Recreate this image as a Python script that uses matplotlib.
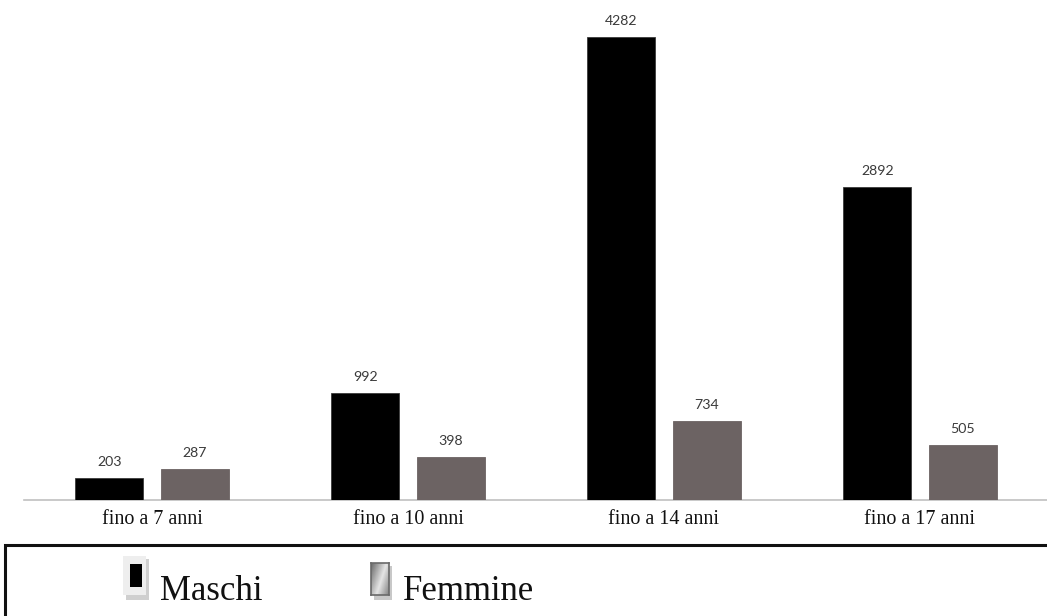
import numpy as np
import matplotlib
matplotlib.use("Agg")
import matplotlib.pyplot as plt
from matplotlib.patches import Rectangle

# Data
categories = ["fino a 7 anni", "fino a 10 anni", "fino a 14 anni", "fino a 17 anni"]
maschi = [203, 992, 4282, 2892]
femmine = [287, 398, 734, 505]
series_names = ["Maschi", "Femmine"]

W, H = 1047, 616
DPI = 100
fig = plt.figure(figsize=(W / DPI, H / DPI), dpi=DPI)
fig.patch.set_facecolor("white")

def fx(px):
    return px / W

def fy(py):
    return 1 - py / H

# Plot area: baseline at y=500 px, spanning x 24..1048 px
ax = fig.add_axes([fx(24), fy(500), 1024 / W, 500 / H])
ax.set_xlim(-0.5, 3.5)
ax.set_ylim(0, 4624)

x = np.arange(len(categories))
bw = 0.266
off = 0.167
c_m = "#000000"
c_f = "#6c6363"
b1 = ax.bar(x - off, maschi, width=bw, color=c_m, edgecolor="#3a3a3a", linewidth=0.6, zorder=3)
b2 = ax.bar(x + off, femmine, width=bw, color=c_f, edgecolor="#6c6363", linewidth=0.6, zorder=3)

for bars, vals in ((b1, maschi), (b2, femmine)):
    for r, v in zip(bars, vals):
        ax.annotate(f"{v}", (r.get_x() + r.get_width() / 2, v),
                    xytext=(0, 11.5), textcoords="offset points",
                    ha="center", va="center", fontsize=10.2,
                    family="Lato", color="#3a3a3a")

for s in ("top", "right", "left"):
    ax.spines[s].set_visible(False)
ax.spines["bottom"].set_color("#c0c0c0")
ax.spines["bottom"].set_linewidth(1.2)
ax.set_yticks([])
ax.set_xticks(x)
ax.set_xticklabels(categories, family="Liberation Serif", fontsize=14.5, color="#111111")
ax.tick_params(axis="x", length=0, pad=7)

# Legend frame
fig.patches.append(Rectangle((fx(5), fy(640)), fx(1100) - fx(5), fy(545) - fy(640),
                             transform=fig.transFigure, fill=False,
                             edgecolor="#111111", linewidth=2.2))

# Maschi key: light tile with shadow and black block
fig.patches.append(Rectangle((fx(126), fy(600)), fx(23), fy(592) - fy(600),
                             transform=fig.transFigure, facecolor="#cfcfcf", edgecolor="none"))
fig.patches.append(Rectangle((fx(146), fy(600)), fx(3), fy(559) - fy(600),
                             transform=fig.transFigure, facecolor="#cfcfcf", edgecolor="none"))
fig.patches.append(Rectangle((fx(123), fy(595)), fx(23), fy(556) - fy(595),
                             transform=fig.transFigure, facecolor="#eeeeee", edgecolor="none"))
fig.patches.append(Rectangle((fx(130), fy(587)), fx(12), fy(564) - fy(587),
                             transform=fig.transFigure, facecolor="#000000", edgecolor="none"))
fig.text(fx(160), fy(600), series_names[0], family="Liberation Serif", fontsize=25,
         color="#111111", ha="left", va="baseline")

# Femmine key: grey gradient tile with shadow
fig.patches.append(Rectangle((fx(374), fy(600)), fx(18), fy(566) - fy(600),
                             transform=fig.transFigure, facecolor="#c8c8c8", edgecolor="none",
                             zorder=0.5))
gax = fig.add_axes([fx(371), fy(595), fx(18), fy(563) - fy(595)])
gax.set_zorder(5)
gy, gx = np.mgrid[0:1:40j, 0:1:30j]
grad = 0.35 + 0.55 * (1 - np.abs(gx + gy * 0.6 - 0.9) / 1.0)
grad = np.clip(grad, 0, 1)
gax.imshow(grad, cmap="gray", vmin=0, vmax=1, aspect="auto", interpolation="bilinear")
gax.set_xticks([])
gax.set_yticks([])
for s in gax.spines.values():
    s.set_color("#6a6a6a")
    s.set_linewidth(1.2)
fig.text(fx(403), fy(600), series_names[1], family="Liberation Serif", fontsize=25,
         color="#111111", ha="left", va="baseline")

fig.savefig("out.png", dpi=DPI, facecolor="white")
